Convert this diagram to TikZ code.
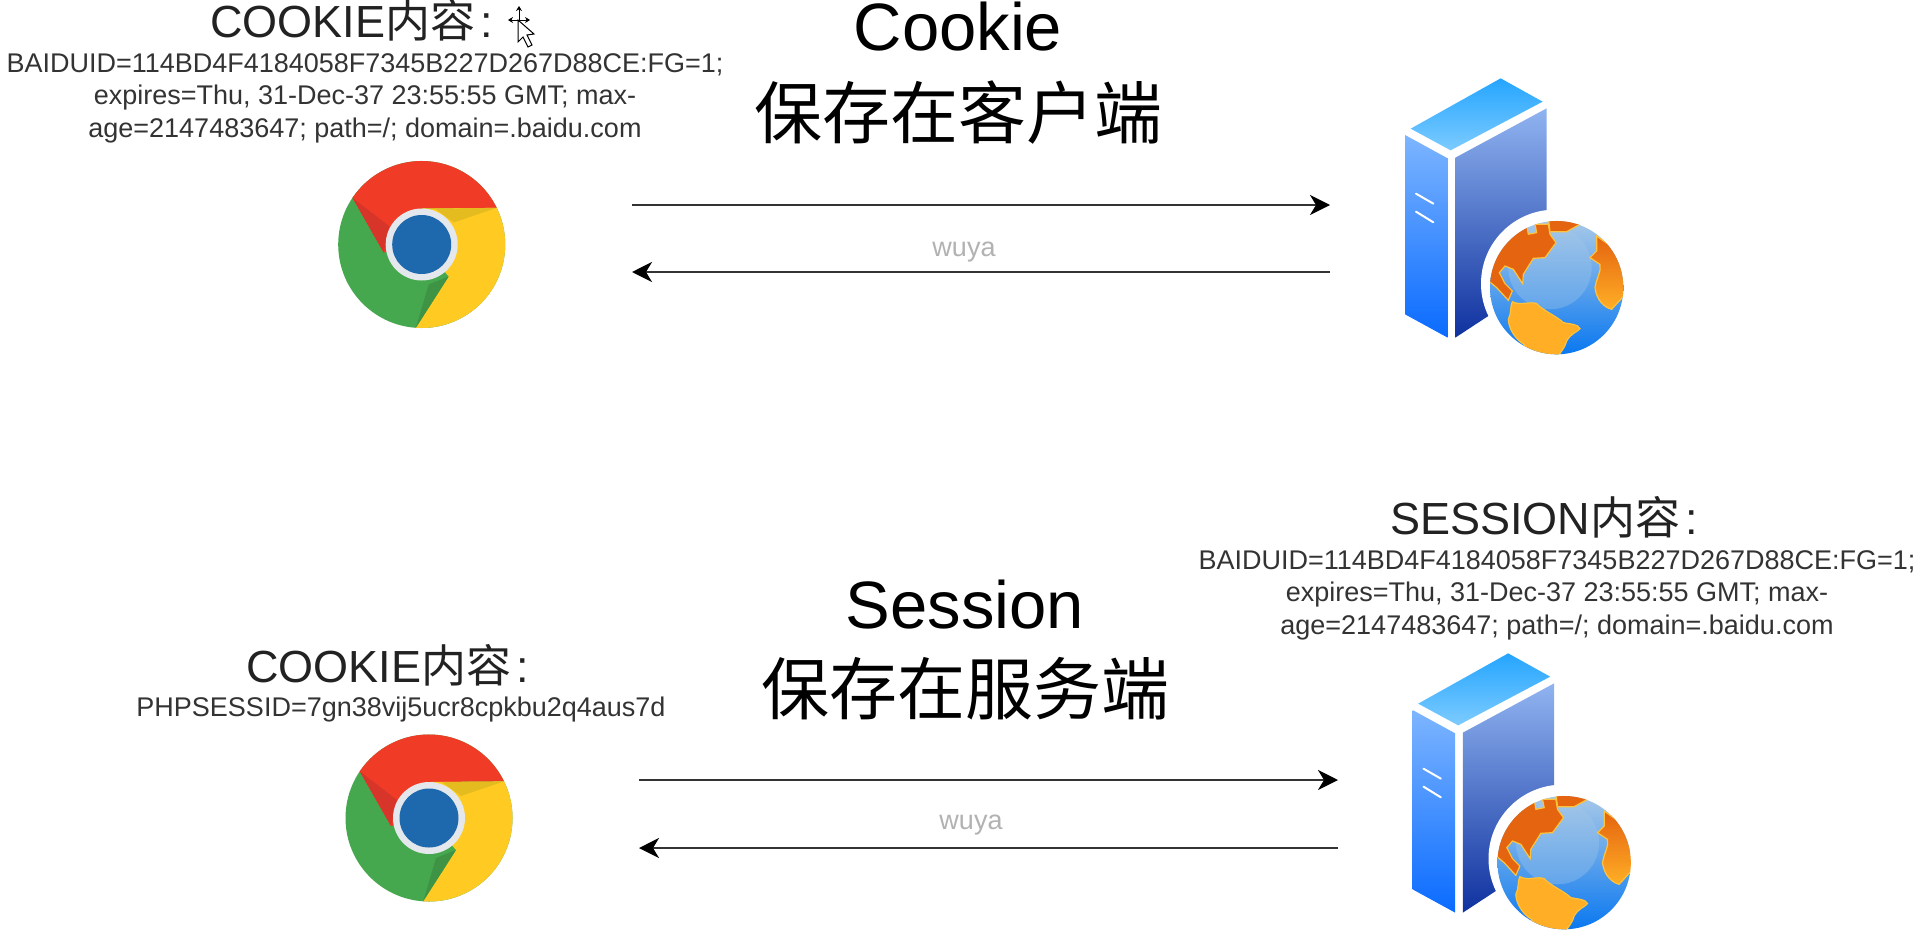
\documentclass[tikz,border=0pt]{standalone}
\usepackage{fontspec}
\setmainfont{Liberation Sans}
\newfontfamily\cjk{Noto Sans CJK SC}
\usetikzlibrary{arrows.meta}
\definecolor{txt}{HTML}{222222}
\definecolor{txtb}{HTML}{333333}
\definecolor{cred}{HTML}{F03C27}
\definecolor{cdred}{HTML}{D8352A}
\definecolor{cgreen}{HTML}{46A84E}
\definecolor{cdgreen}{HTML}{3E9344}
\definecolor{cyel}{HTML}{FFCB22}
\definecolor{cdyel}{HTML}{E5BC20}
\definecolor{cblue}{HTML}{1E68AE}
\definecolor{cring}{HTML}{E4E8EC}
\definecolor{land}{HTML}{FFAE26}
\definecolor{landd}{HTML}{E4640F}
\definecolor{coast}{HTML}{FFC23C}
\definecolor{stop}{HTML}{25A5FF}
\definecolor{stopl}{HTML}{7CCBFF}
\definecolor{sfl}{HTML}{7DB5FF}
\definecolor{sfd}{HTML}{0A6BFF}
\definecolor{ssl}{HTML}{90B4F0}
\definecolor{ssd}{HTML}{0F319F}
\definecolor{gl}{HTML}{A6C8E8}
\definecolor{gm}{HTML}{4C9CEC}
\definecolor{gd}{HTML}{0A78F0}
\tikzset{
  x=1pt,y=-1pt,
  flow/.style={draw=black!80,line width=2.2pt,-{Stealth[length=20pt,width=20pt,inset=6pt,color=black]}},
  bigt/.style={inner sep=0pt,text=black,font=\fontsize{67}{80}\selectfont,align=center},
  bigc/.style={inner sep=0pt,text=black,font=\fontsize{68}{80}\selectfont\cjk,align=center},
  head/.style={inner sep=0pt,anchor=west,text=txt,font=\fontsize{45}{50}\selectfont},
  small/.style={inner sep=0pt,text=txtb,font=\fontsize{27}{32.6}\selectfont,align=center},
  wmark/.style={inner sep=0pt,text=black!30,font=\fontsize{27}{30}\selectfont},
  chromeicon/.pic={
    \fill[cgreen] (0,0) circle[radius=83.5];
    \fill[cred] (-26:83.5) arc[start angle=-26,end angle=-146,radius=83.5] -- (-38,8) -- (0,0) -- (0,-36) -- cycle;
    \fill[cdred] (-146:83.5) -- (-38,8) -- (-32,-18) -- cycle;
    \fill[cyel] (-26:83.5) arc[start angle=-26,end angle=94,radius=83.5] -- (27,32) -- (0,0) -- (0,-36) -- cycle;
    \fill[cdyel] (13,-36) -- (-26:83.5) -- (32,-22) -- cycle;
    \fill[cdgreen] (94:83.5) -- (27,32) -- (7,40) -- cycle;
    \fill[cring] (0,0) circle[radius=36];
    \fill[cblue] (0,0) circle[radius=29.5];
  },
  servericon/.pic={
    \begin{scope}[x=0.3333pt,y=-0.3333pt]
    \shade[bottom color=stopl,top color=stop] (92,203) -- (362,52) -- (488,122) -- (212,268) -- cycle;
    \shade[top color=sfl,bottom color=sfd] (75,222) -- (203,292) -- (203,830) -- (75,760) -- cycle;
    \shade[top color=ssl,bottom color=ssd] (226,290) -- (500,142) -- (500,650) -- (226,830) -- cycle;
    \draw[white,line width=2pt,line cap=round] (108,398) -- (160,428) (108,452) -- (160,484);
    \fill[white] (525,668) circle[radius=222];
    \begin{scope}
    \clip (530,680) circle[radius=200];
    \shade[top color=gl,middle color=gm,bottom color=gd] (330,480) rectangle (730,880);
    \fill[gl,opacity=.35] (510,620) circle[radius=125];
    \fill[landd,draw=coast,line width=1.2pt] (320,655) -- (320,480) -- (440,490) -- (445,520) -- (470,515) -- (465,490) -- (505,490) -- (510,520) -- (528,545) -- (495,590) -- (460,592) -- (430,640) -- (428,668) -- (400,625) -- (375,615) -- (358,635) -- (375,668) -- (397,690) -- (385,718) -- (350,680) -- cycle;
    \fill[landd,draw=coast,line width=1.2pt] (505,470) -- (610,470) -- (600,490) -- (560,512) -- (510,512) -- cycle;
    \fill[land,draw=coast,line width=1.2pt] (385,775) .. controls (395,755) and (390,735) .. (397,722) .. controls (420,735) and (450,720) .. (470,728) .. controls (490,750) and (530,765) .. (550,785) .. controls (575,790) and (595,790) .. (600,803) .. controls (590,815) and (575,815) .. (560,840) .. controls (555,860) and (545,870) .. (530,890) -- (450,890) -- (432,850) .. controls (405,835) and (385,800) .. (385,775) -- cycle;
    \shade[top color=landd,bottom color=land,draw=coast,line width=1.2pt] (650,525) -- (740,590) -- (745,690) -- (695,745) .. controls (675,740) and (650,720) .. (645,680) .. controls (650,650) and (665,630) .. (660,610) -- (630,590) -- (650,570) -- cycle;
    \end{scope}
    \end{scope}
  }
}
\begin{document}
\begin{tikzpicture}
\useasboundingbox (0,0) rectangle (1919,932);
\fill[white] (0,0) rectangle (1919,932);
% top row
\pic (ca) at (421.7,244.5) {chromeicon};
\pic (sa) at (1380,61) {servericon};
\coordinate (c1r) at (632,205); \coordinate (s1l) at (1330,205);
\coordinate (c1b) at (632,272); \coordinate (s1b) at (1330,272);
\draw[flow] (c1r) -- (s1l);
\draw[flow] (s1b) -- (c1b);
\node[wmark] (wa) at (964,252) {wuya};
\node[bigt] (ta) at (958,27) {Cookie};
\node[bigc] (tb) at (958,113) {保存在客户端};
\node[head] (ha) at (210,20) {COOKIE{\cjk 内容}\hspace{5pt}:};
\node[small] (ba) at (365,98) {BAIDUID=114BD4F4184058F7345B227D267D88CE:FG=1;\\expires=Thu, 31-Dec-37 23:55:55 GMT; max-\\age=2147483647; path=/; domain=.baidu.com};
% cursor
\coordinate (curc) at (519,20);
\draw[black,line width=1pt,{Stealth[length=5pt,width=6pt]}-{Stealth[length=5pt,width=6pt]}] (508,20) -- (530,20);
\draw[black,line width=1pt,{Stealth[length=5pt,width=6pt]}-] (519,6) -- (curc);
\draw[black,line width=1pt,fill=white] (518,20) -- (518,42) -- (523,37) -- (528,47) -- (532,45) -- (527,35) -- (534,34) -- cycle;
% bottom row
\pic (cb) at (429,818) {chromeicon};
\pic (sb) at (1387.5,636) {servericon};
\coordinate (c2r) at (639,780); \coordinate (s2l) at (1338,780);
\coordinate (c2b) at (639,848); \coordinate (s2b) at (1338,848);
\draw[flow] (c2r) -- (s2l);
\draw[flow] (s2b) -- (c2b);
\node[wmark] (wb) at (971,825) {wuya};
\node[bigt] (tc) at (965,605) {Session};
\node[bigc] (td) at (965,689) {保存在服务端};
\node[head] (hb) at (246,665) {COOKIE{\cjk 内容}\hspace{5pt}:};
\node[small] (bb) at (401,710) {PHPSESSID=7gn38vij5ucr8cpkbu2q4aus7d};
\node[head] (hc) at (1390,517) {SESSION{\cjk 内容}\hspace{5pt}:};
\node[small] (bc) at (1557,595) {BAIDUID=114BD4F4184058F7345B227D267D88CE:FG=1;\\expires=Thu, 31-Dec-37 23:55:55 GMT; max-\\age=2147483647; path=/; domain=.baidu.com};
\end{tikzpicture}
\end{document}
